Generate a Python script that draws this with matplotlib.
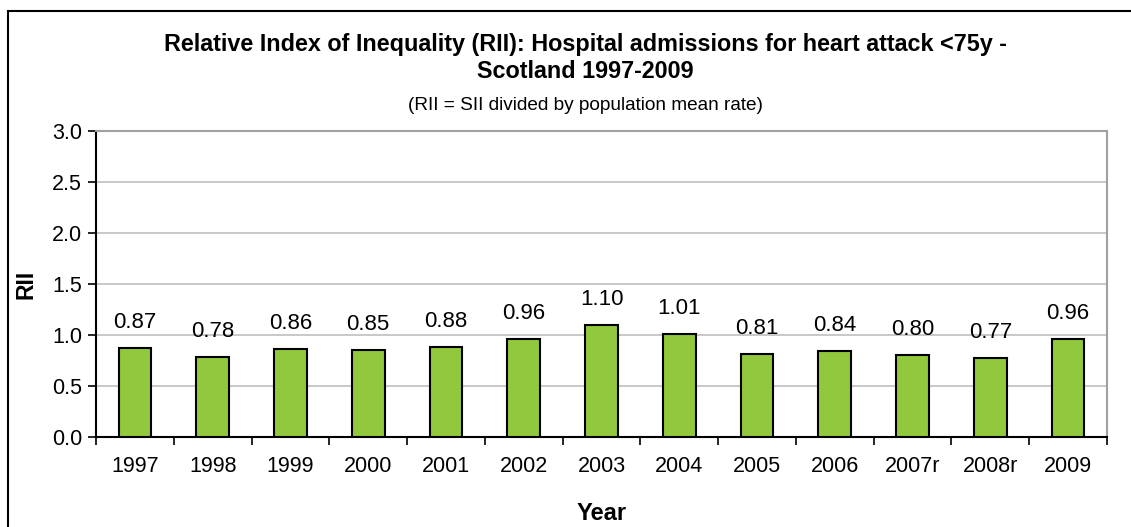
import matplotlib.pyplot as plt
from matplotlib.patches import Rectangle

years = ["1997", "1998", "1999", "2000", "2001", "2002", "2003",
         "2004", "2005", "2006", "2007r", "2008r", "2009"]
rii = [0.87, 0.78, 0.86, 0.85, 0.88, 0.96, 1.10,
       1.01, 0.81, 0.84, 0.80, 0.77, 0.96]
y_ticks = [0.0, 0.5, 1.0, 1.5, 2.0, 2.5, 3.0]

plt.rcParams['font.family'] = ['Liberation Sans', 'DejaVu Sans']

W, H = 1131, 527
fig = plt.figure(figsize=(W / 100, H / 100), dpi=100)

# outer chart frame (runs off the right/bottom edge)
fig.patches.append(Rectangle((7.5 / W, -0.1), 1.2, 1.1 - 10.5 / H,
                             transform=fig.transFigure, fill=False,
                             edgecolor='black', linewidth=1.5))

left, right, top, bottom = 96, 1107, 131, 437
ax = fig.add_axes([left / W, 1 - bottom / H, (right - left) / W, (bottom - top) / H])

x = range(len(years))
ax.bar(x, rii, width=0.42, color='#92C83E', edgecolor='black', linewidth=1.5, zorder=3)

for i, v in enumerate(rii):
    ax.annotate(f"{v:.2f}", (i, v), xytext=(0, 11), textcoords='offset points',
                ha='center', va='bottom', fontsize=16)

ax.set_xlim(-0.5, len(years) - 0.5)
ax.set_ylim(0, 3.0)
ax.set_yticks(y_ticks)
ax.set_yticklabels([f"{t:.1f}" for t in y_ticks], fontsize=15.5)
ax.set_xticks(list(x))
ax.set_xticklabels(years, fontsize=15.5)
ax.tick_params(axis='x', length=0, pad=14)
ax.set_xticks([i - 0.5 for i in range(len(years) + 1)], minor=True)
ax.tick_params(axis='x', which='minor', length=6, width=1.2, direction='out')
ax.tick_params(axis='y', length=6, width=1.2, direction='out', pad=4)

ax.grid(axis='y', color='#BFBFBF', linewidth=1.2, zorder=0)
ax.spines['left'].set_linewidth(1.5)
ax.spines['bottom'].set_linewidth(1.5)
ax.spines['top'].set_color('#A0A0A0')
ax.spines['right'].set_color('#A0A0A0')
ax.spines['top'].set_linewidth(1.5)
ax.spines['right'].set_linewidth(1.5)

ax.set_ylabel("RII", fontsize=16.5, fontweight='bold', labelpad=10)
ax.set_xlabel("Year", fontsize=17, fontweight='bold', labelpad=18)

fig.text(0.5175, 1 - 44 / H,
         "Relative Index of Inequality (RII): Hospital admissions for heart attack <75y -",
         ha='center', va='center', fontsize=16.8, fontweight='bold')
fig.text(0.5175, 1 - 72 / H, "Scotland 1997-2009",
         ha='center', va='center', fontsize=16.8, fontweight='bold')
fig.text(0.5175, 1 - 105 / H, "(RII = SII divided by population mean rate)",
         ha='center', va='center', fontsize=13.7)

fig.savefig("out.png", dpi=100)
